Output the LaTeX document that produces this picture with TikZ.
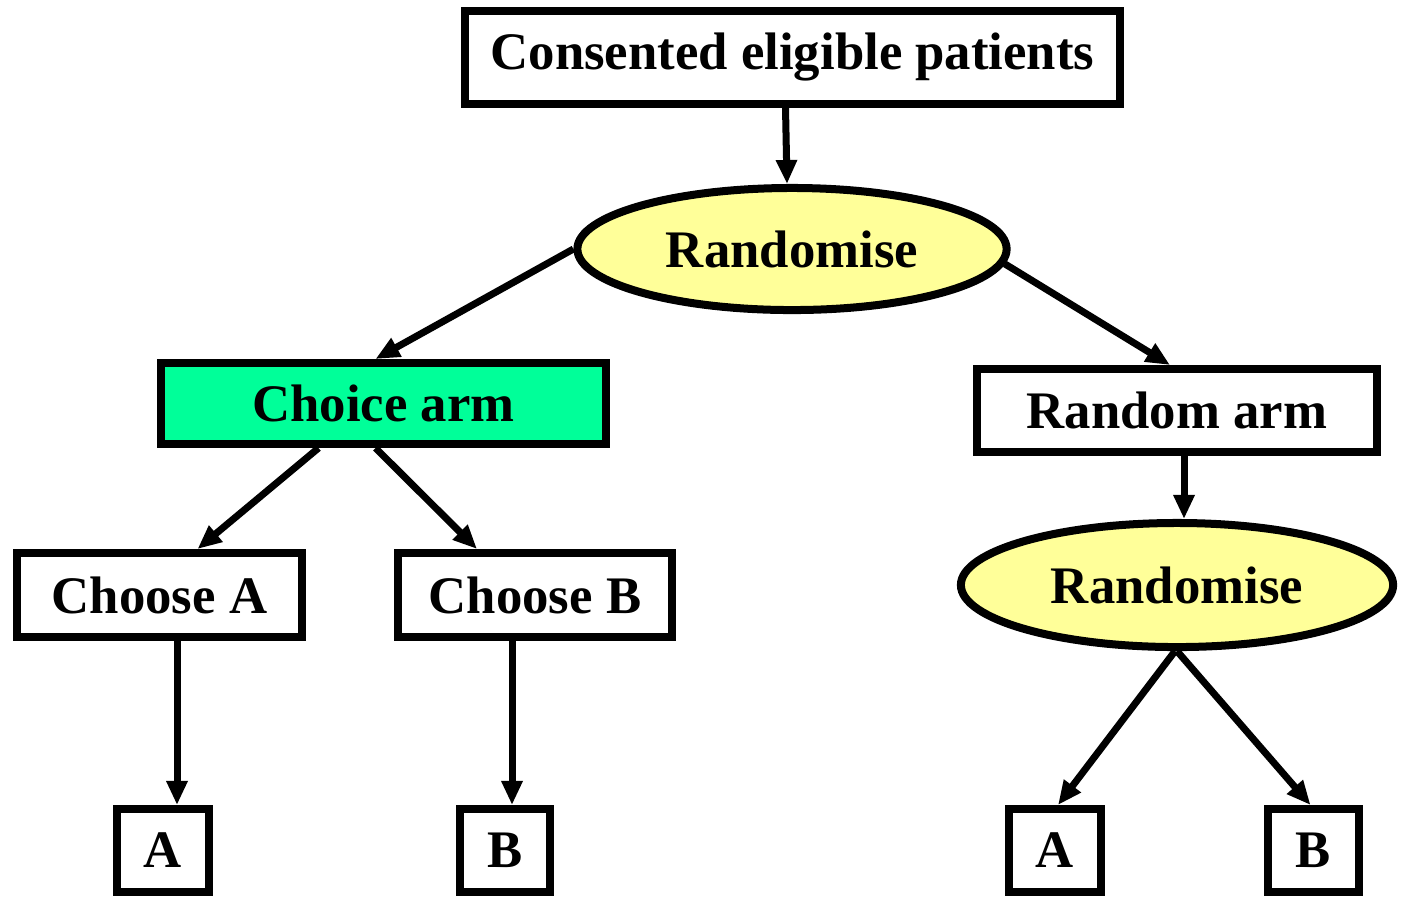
\documentclass[tikz,border=0pt]{standalone}
\usepackage{fontspec}
\setmainfont{Liberation Serif}
\usepackage{tikz}
\usetikzlibrary{shapes.geometric, arrows.meta, calc}
\definecolor{randyellow}{HTML}{FFFF99}
\definecolor{choicegreen}{HTML}{00FF99}

\begin{document}
\begin{tikzpicture}[x=0.01cm, y=-0.01cm,
  every node/.style={font=\fontsize{15}{18}\selectfont\bfseries, draw, line width=0.08cm, inner sep=0pt},
  box/.style={rectangle, fill=white},
  oval/.style={ellipse, fill=randyellow},
  arr/.style={-{Triangle[length=0.24cm, width=0.2cm]}, line width=0.07cm}]
  \useasboundingbox (0,0) rectangle (1404,896);
  % top of the tree
  \node[box, minimum width=6.55cm, minimum height=0.93cm] (top) at (792.5,57.5) {Consented eligible patients};
  \node[oval, minimum width=4.29cm, minimum height=1.22cm] (rand1) at (792,249) {Randomise};
  % the two arms
  \node[box, fill=choicegreen, minimum width=4.45cm, minimum height=0.81cm] (choice) at (383.5,403.5) {Choice arm};
  \node[box, minimum width=4cm, minimum height=0.83cm] (random) at (1177,410.5) {Random arm};
  \node[oval, minimum width=4.32cm, minimum height=1.24cm] (rand2) at (1177,585) {Randomise};
  \node[box, minimum width=2.85cm, minimum height=0.84cm] (chooseA) at (159.5,595) {Choose A};
  \node[box, minimum width=2.74cm, minimum height=0.84cm] (chooseB) at (535,595) {Choose B};
  % treatments
  \node[box, minimum width=0.92cm, minimum height=0.83cm] (armA) at (163,850.5) {A};
  \node[box, minimum width=0.90cm, minimum height=0.83cm] (armB) at (505,850.5) {B};
  \node[box, minimum width=0.92cm, minimum height=0.83cm] (randA) at (1055,850.5) {A};
  \node[box, minimum width=0.91cm, minimum height=0.83cm] (randB) at (1313.5,850.5) {B};
  % connectors
  \draw[arr] ($(top.south)+(-7,0)$) -- ($(rand1.north)+(-5,0)$);
  \draw[arr] (rand1.west) -- ($(choice.north)+(-8,0)$);
  \draw[arr] (rand1.-4) -- ($(random.north)+(-7,0)$);
  \draw[arr] ($(choice.south)+(-65,0)$) -- ($(chooseA.north)+(38,0)$);
  \draw[arr] ($(choice.south)+(-8,0)$) -- ($(chooseB.north)+(-58,0)$);
  \draw[arr] ($(random.south)+(7,0)$) -- ($(rand2.north)+(7,0)$);
  \draw[arr] ($(rand2.south)+(-2,0)$) -- ($(randA.north)+(3,0)$);
  \draw[arr] (rand2.south) -- ($(randB.north)+(-3,0)$);
  \draw[arr] ($(chooseA.south)+(17.5,0)$) -- ($(armA.north)+(14,0)$);
  \draw[arr] ($(chooseB.south)+(-23,0)$) -- ($(armB.north)+(7,0)$);
\end{tikzpicture}
\end{document}
